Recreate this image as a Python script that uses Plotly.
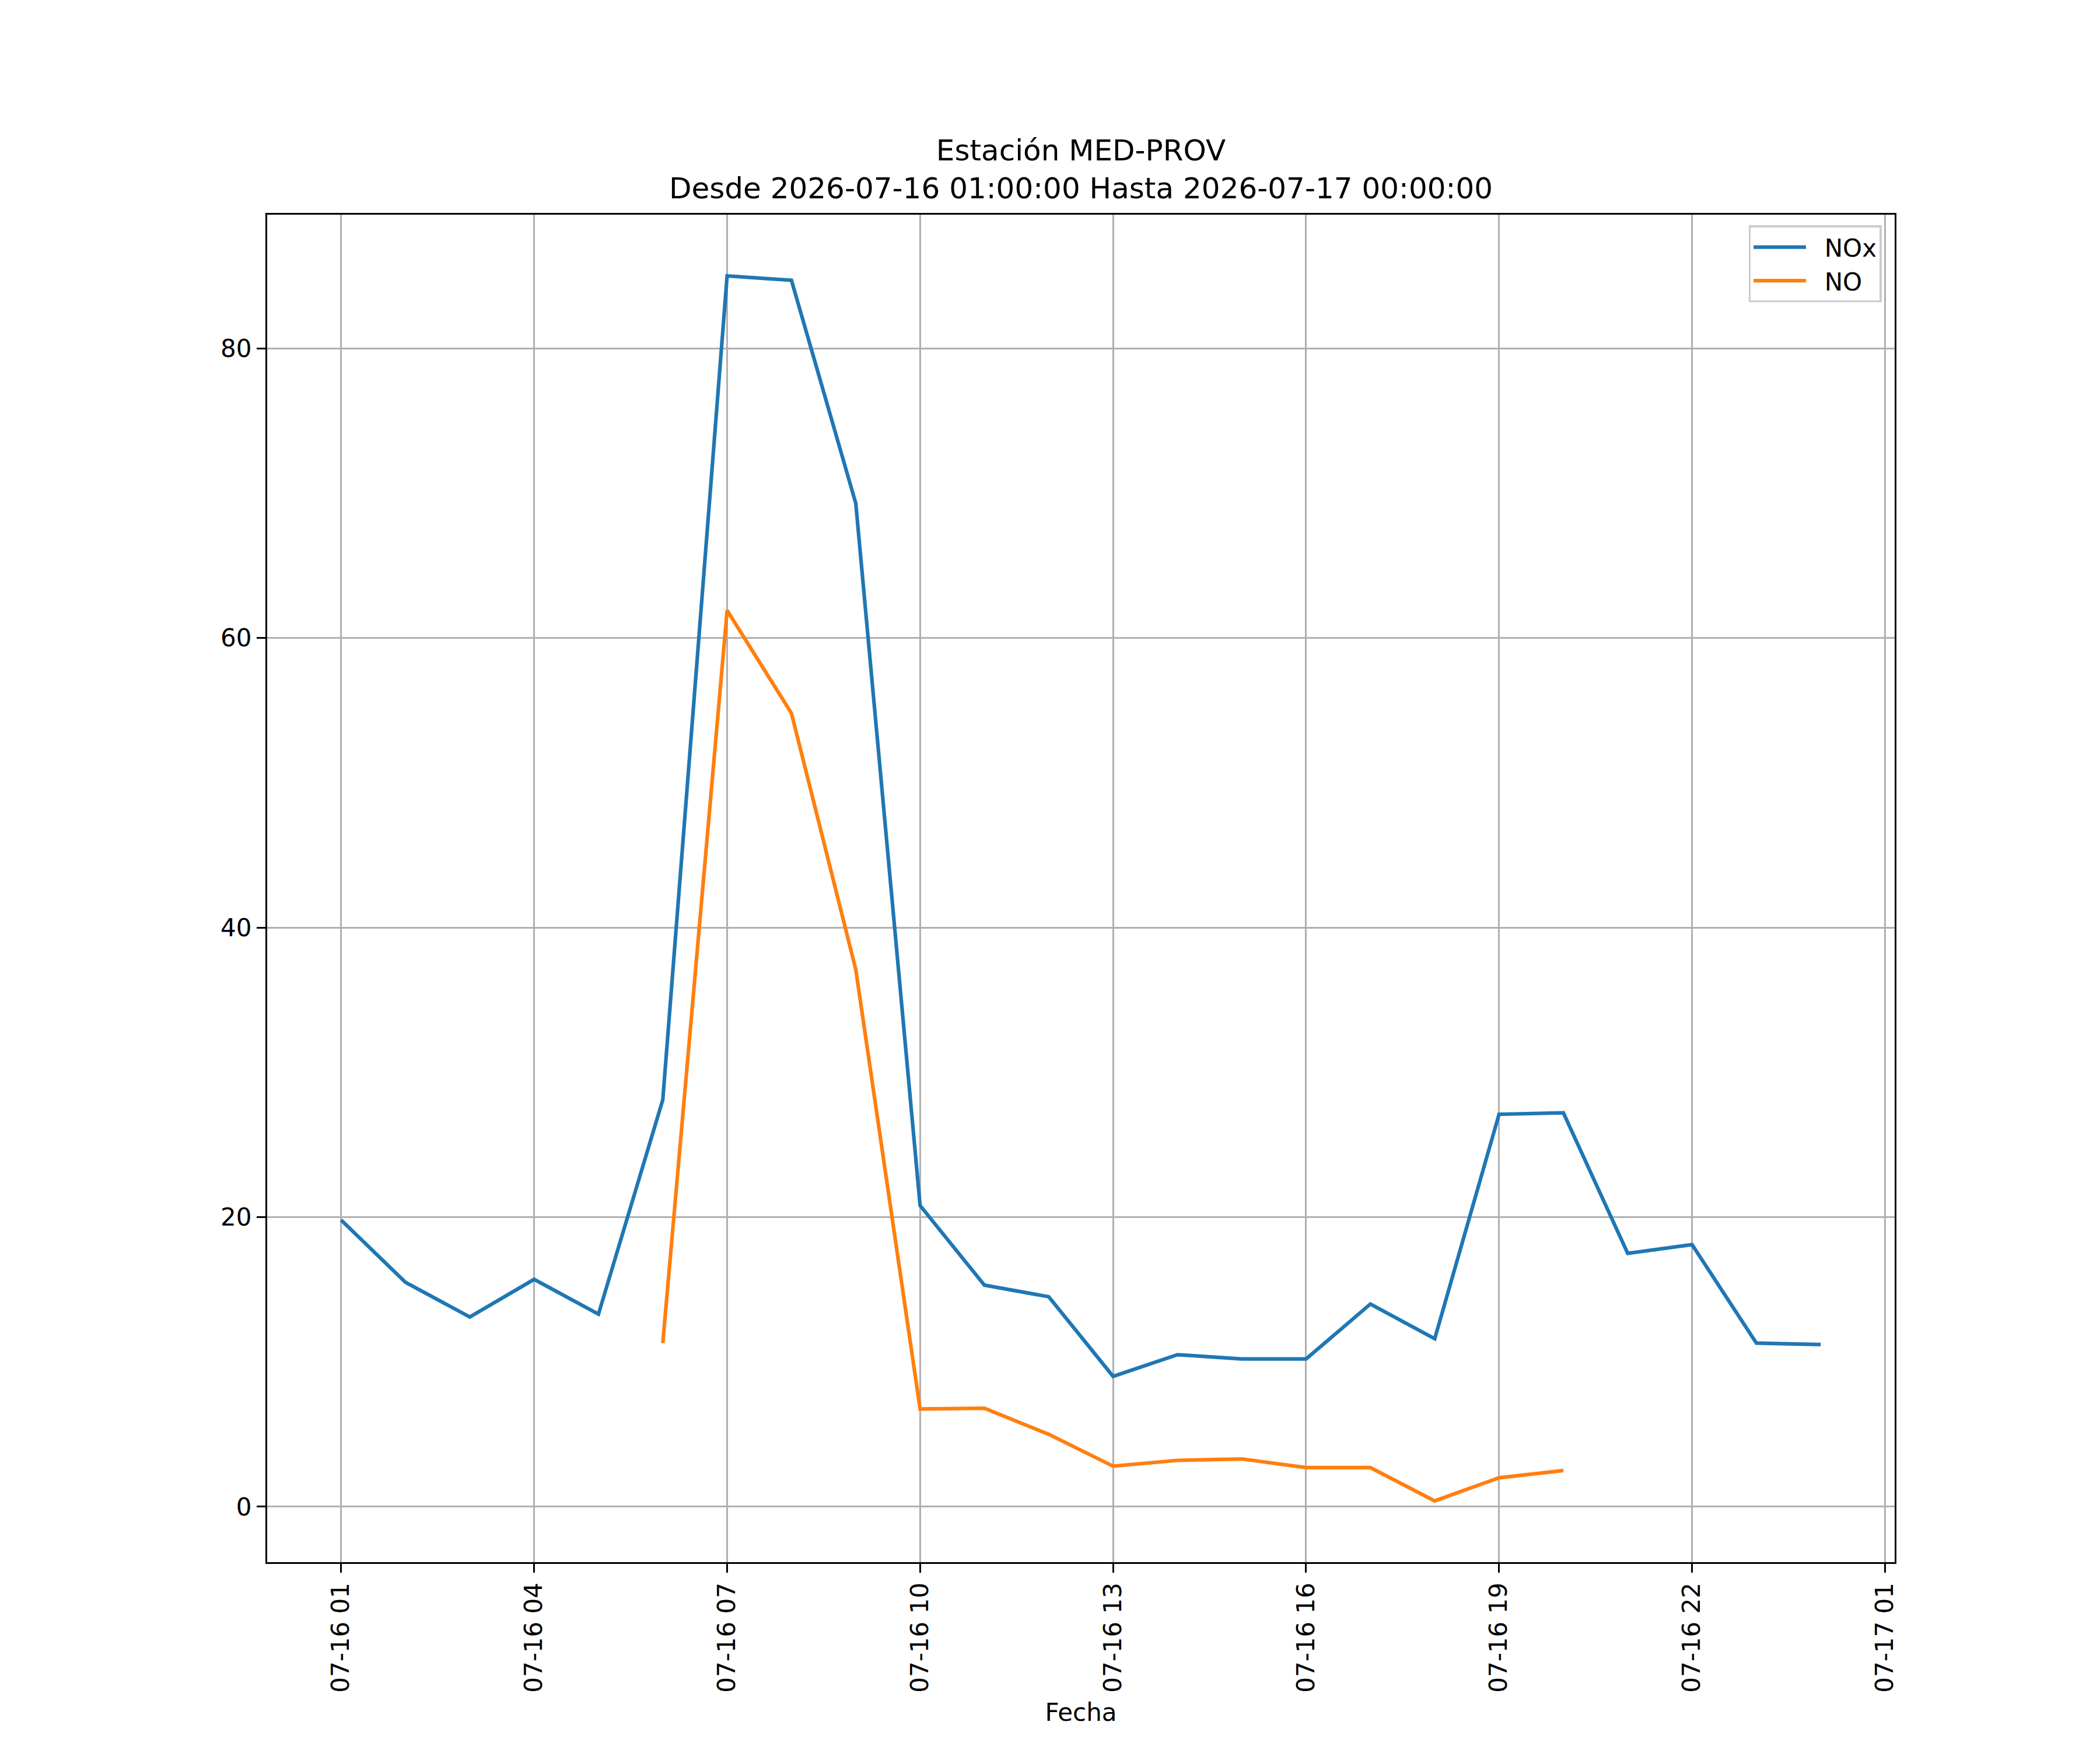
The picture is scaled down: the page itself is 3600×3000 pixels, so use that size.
import plotly.graph_objects as go

# Hourly readings, station MED-PROV
fechas = [
    "2026-07-16 01:00", "2026-07-16 02:00", "2026-07-16 03:00", "2026-07-16 04:00",
    "2026-07-16 05:00", "2026-07-16 06:00", "2026-07-16 07:00", "2026-07-16 08:00",
    "2026-07-16 09:00", "2026-07-16 10:00", "2026-07-16 11:00", "2026-07-16 12:00",
    "2026-07-16 13:00", "2026-07-16 14:00", "2026-07-16 15:00", "2026-07-16 16:00",
    "2026-07-16 17:00", "2026-07-16 18:00", "2026-07-16 19:00", "2026-07-16 20:00",
    "2026-07-16 21:00", "2026-07-16 22:00", "2026-07-16 23:00", "2026-07-17 00:00",
]
nox = [19.8, 15.5, 13.1, 15.7, 13.3, 28.1, 85.0, 84.7, 69.3, 20.8, 15.3, 14.5,
       9.0, 10.5, 10.2, 10.2, 14.0, 11.6, 27.1, 27.2, 17.5, 18.1, 11.3, 11.2]
no = [None, None, None, None, None, 11.3, 61.9, 54.8, 37.1, 6.75, 6.8, 5.0,
      2.8, 3.2, 3.3, 2.7, 2.7, 0.4, 2.0, 2.5, None, None, None, None]

titulo = "Estación MED-PROV<br>Desde 2026-07-16 01:00:00 Hasta 2026-07-17 00:00:00"

W, H = 3600, 3000
FONT = "DejaVu Sans"
GAP = "\u00a0" * 2  # extra room between legend line and label

fig = go.Figure()
fig.add_trace(go.Scatter(x=fechas, y=nox, name=GAP + "NOx", mode="lines",
                         line=dict(color="#1f77b4", width=6.25)))
fig.add_trace(go.Scatter(x=fechas, y=no, name=GAP + "NO", mode="lines",
                         line=dict(color="#ff7f0e", width=6.25)))

axis_common = dict(
    showline=True, linecolor="black", linewidth=3.3, mirror=True,
    ticks="outside", ticklen=15, tickwidth=3.3, tickcolor="black",
    showgrid=True, gridcolor="#b0b0b0", gridwidth=3.3, zeroline=False,
    tickfont=dict(family=FONT, size=42, color="black"),
)

fig.update_xaxes(
    type="date",
    range=["2026-07-15 23:51:00", "2026-07-17 01:09:00"],
    tick0="2026-07-16 01:00", dtick=3 * 3600000, tickformat="%m-%d %H",
    tickangle=-90,
    title=dict(text="Fecha", font=dict(family=FONT, size=42, color="black"), standoff=20),
    **axis_common,
)
fig.update_yaxes(
    range=[-3.83, 89.23], tickvals=[0, 20, 40, 60, 80],
    **axis_common,
)

fig.update_layout(
    width=W, height=H,
    margin=dict(l=450, r=360, t=360, b=330, autoexpand=False),
    plot_bgcolor="white", paper_bgcolor="white",
    font=dict(family=FONT, size=42, color="black"),
    title=dict(text=titulo, x=0.5, xref="paper", xanchor="center",
               y=0.911, yref="container", yanchor="top",
               font=dict(family=FONT, size=50, color="black")),
    showlegend=True,
    legend=dict(x=0.992, y=0.992, xanchor="right", yanchor="top",
                bgcolor="rgba(255,255,255,0.8)", bordercolor="#cccccc", borderwidth=3.3,
                font=dict(family=FONT, size=42, color="black"),
                itemwidth=90, tracegroupgap=0),
)

fig.write_html("out.html")
